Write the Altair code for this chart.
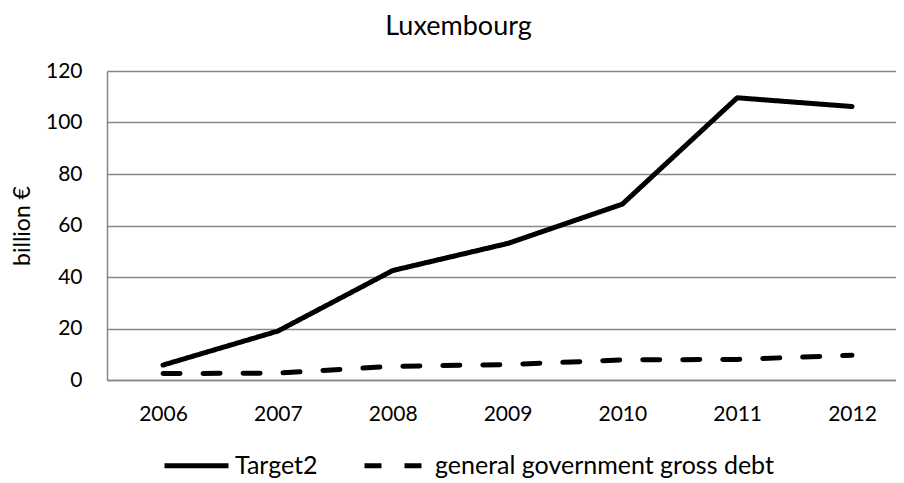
import altair as alt
import pandas as pd

years = [2006, 2007, 2008, 2009, 2010, 2011, 2012]
target2 = [5.8, 19.0, 42.5, 53.0, 68.3, 109.6, 106.2]
debt = [2.5, 2.7, 5.3, 6.0, 7.8, 8.0, 9.6]
series = ["Target2", "general government gross debt"]
y_ticks = [0, 20, 40, 60, 80, 100, 120]

rows = []
for yr, t, d in zip(years, target2, debt):
    rows.append({"year": yr, "value": t, "series": series[0]})
    rows.append({"year": yr, "value": d, "series": series[1]})
df = pd.DataFrame(rows)

FONT = "Lato"
GRID = "#878787"

chart = (
    alt.Chart(df)
    .mark_line(strokeWidth=5, strokeCap="round", strokeJoin="round", color="black")
    .encode(
        x=alt.X(
            "year:Q",
            scale=alt.Scale(domain=[2005.512, 2012.383], nice=False, zero=False),
            axis=alt.Axis(
                title=None, values=years, format="d", labelAngle=0, ticks=False,
                domainColor=GRID, domainWidth=1.5, labelPadding=23,
                labelFontSize=21, labelFont=FONT, labelColor="black", grid=False,
                labelFlush=False, labelOverlap=False,
            ),
        ),
        y=alt.Y(
            "value:Q",
            scale=alt.Scale(domain=[0, 120], nice=False, zero=True),
            axis=alt.Axis(
                values=y_ticks, title="billion €", titleFont=FONT,
                titleFontSize=23, titleFontWeight="normal", titleColor="black",
                titlePadding=11, ticks=False, domainColor=GRID, domainWidth=1.5,
                gridColor=GRID, gridWidth=1.5, labelPadding=25,
                labelFontSize=21, labelFont=FONT, labelColor="black",
            ),
        ),
        strokeDash=alt.StrokeDash(
            "series:N",
            scale=alt.Scale(domain=series, range=[[1, 0], [17, 23]]),
            legend=alt.Legend(
                title=None, orient="none", legendX=55, legendY=360,
                direction="horizontal", symbolType="stroke", symbolSize=4096,
                symbolStrokeWidth=5, symbolStrokeColor="black",
                labelFont=FONT, labelFontSize=25, labelColor="black",
                labelOffset=4, columnPadding=36, labelLimit=500,
            ),
        ),
    )
    .properties(
        width=789,
        height=309,
        title=alt.TitleParams(
            "Luxembourg", font=FONT, fontSize=27, fontWeight="normal",
            color="black", anchor="middle", dx=-43, offset=19,
        ),
        autosize=alt.AutoSizeParams(type="none"),
        padding={"left": 99, "top": 63, "right": 0, "bottom": 103},
    )
    .configure_view(strokeWidth=0)
    .configure(background="white")
)

chart.save("out.html", embed_options={"renderer": "svg", "actions": False})
